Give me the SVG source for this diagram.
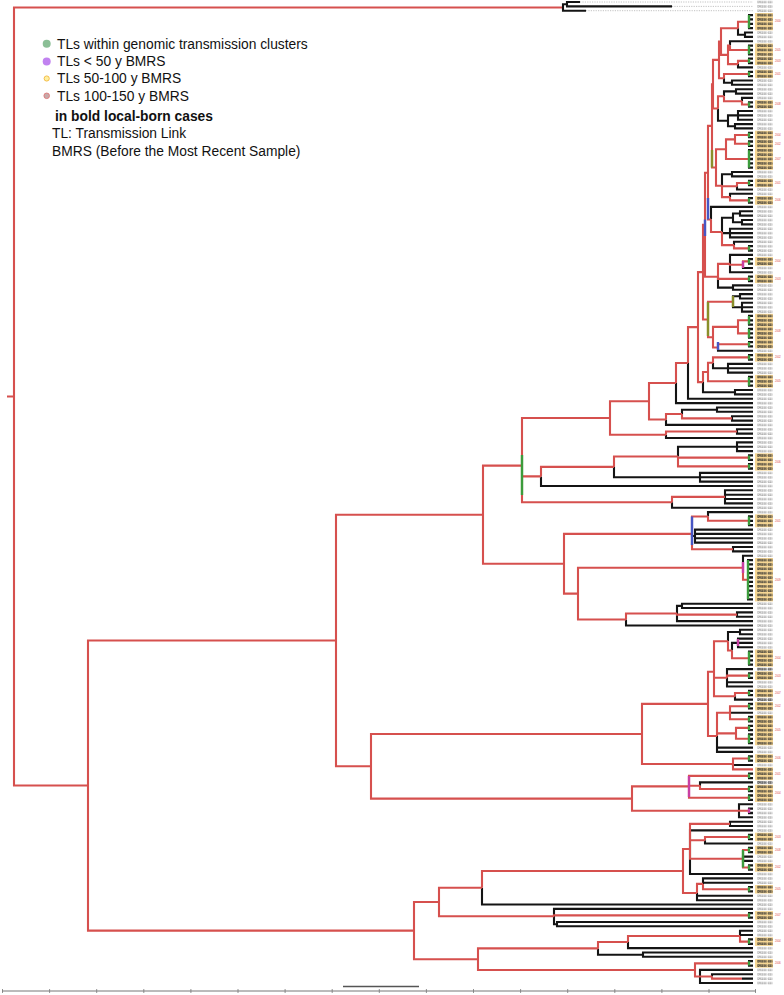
<svg xmlns="http://www.w3.org/2000/svg" width="784" height="995" viewBox="0 0 784 995">
<style>
.r{fill:none;stroke:#d6504e;stroke-width:2.1;stroke-linejoin:miter}
.k{fill:none;stroke:#141414;stroke-width:2.1;stroke-linejoin:miter}
.tip{fill:none;stroke:#141414;stroke-width:2.3}
.gb{fill:none;stroke:#3c9c3c;stroke-width:2.4}
.bb{fill:none;stroke:#4756c4;stroke-width:2.4}
.ob{fill:none;stroke:#8a8f2a;stroke-width:2.4}
.pb{fill:none;stroke:#c93fa3;stroke-width:2.4}
.dash{fill:none;stroke:#9a9a9a;stroke-width:0.6;stroke-dasharray:1.2 1.2}
.yb{fill:#f7d794}
.lt{font-family:'Liberation Sans',Arial,sans-serif;font-size:2.6px;fill:#555}
.ltb{font-family:'Liberation Sans',Arial,sans-serif;font-size:2.6px;font-weight:bold;fill:#1a1a1a}
.an{font-family:'Liberation Sans',Arial,sans-serif;font-size:2.6px;fill:#e04848}
.lg{font-family:'Liberation Sans',Arial,sans-serif;font-size:13.8px;fill:#111}
.hb{fill:url(#lblb)}
</style>
<defs>
<pattern id="lbl" patternUnits="userSpaceOnUse" x="757" y="-0.18" width="16" height="4.36">
<text x="0.3" y="3.2" class="lt" textLength="15" lengthAdjust="spacingAndGlyphs">IDR00000_0000</text>
</pattern>
<pattern id="lblb" patternUnits="userSpaceOnUse" x="757" y="-0.18" width="16" height="4.36">
<text x="0.3" y="3.2" class="ltb" textLength="15" lengthAdjust="spacingAndGlyphs">IDR00000_0000</text>
</pattern>
</defs>
<rect width="784" height="995" fill="#ffffff"/>

<g id="highlights">
<rect class="yb" x="755" y="13" width="18" height="17.3"/>
<rect class="yb" x="755" y="43.5" width="18" height="12.9"/>
<rect class="yb" x="755" y="56.6" width="18" height="8.5"/>
<rect class="yb" x="755" y="69.7" width="18" height="8.5"/>
<rect class="yb" x="755" y="100.2" width="18" height="8.5"/>
<rect class="yb" x="755" y="130.7" width="18" height="8.6"/>
<rect class="yb" x="755" y="139.4" width="18" height="8.6"/>
<rect class="yb" x="755" y="148.1" width="18" height="21.7"/>
<rect class="yb" x="755" y="178.7" width="18" height="8.5"/>
<rect class="yb" x="755" y="196.1" width="18" height="8.6"/>
<rect class="yb" x="755" y="257.1" width="18" height="8.6"/>
<rect class="yb" x="755" y="274.6" width="18" height="8.5"/>
<rect class="yb" x="755" y="313.8" width="18" height="34.7"/>
<rect class="yb" x="755" y="353.1" width="18" height="8.5"/>
<rect class="yb" x="755" y="374.9" width="18" height="12.9"/>
<rect class="yb" x="755" y="453.3" width="18" height="17.3"/>
<rect class="yb" x="755" y="514.4" width="18" height="12.9"/>
<rect class="yb" x="755" y="558" width="18" height="43.4"/>
<rect class="yb" x="755" y="649.5" width="18" height="17.3"/>
<rect class="yb" x="755" y="671.3" width="18" height="8.6"/>
<rect class="yb" x="755" y="688.8" width="18" height="8.5"/>
<rect class="yb" x="755" y="701.9" width="18" height="8.5"/>
<rect class="yb" x="755" y="714.9" width="18" height="30.4"/>
<rect class="yb" x="755" y="754.2" width="18" height="8.5"/>
<rect class="yb" x="755" y="767.3" width="18" height="12.9"/>
<rect class="yb" x="755" y="784.7" width="18" height="17.3"/>
<rect class="yb" x="755" y="832.7" width="18" height="8.5"/>
<rect class="yb" x="755" y="845.7" width="18" height="8.7"/>
<rect class="yb" x="755" y="863.2" width="18" height="8.5"/>
<rect class="yb" x="755" y="885" width="18" height="8.5"/>
<rect class="yb" x="755" y="911.1" width="18" height="8.6"/>
<rect class="yb" x="755" y="937.3" width="18" height="8.6"/>
<rect class="yb" x="755" y="959.1" width="18" height="8.6"/>
</g>

<g id="leaf-labels">
<rect x="757" y="0" width="16" height="985.5" fill="url(#lbl)"/>
<rect class="hb" x="757" y="13" width="16" height="17.3"/>
<rect class="hb" x="757" y="43.5" width="16" height="21.6"/>
<rect class="hb" x="757" y="69.7" width="16" height="8.5"/>
<rect class="hb" x="757" y="100.2" width="16" height="8.5"/>
<rect class="hb" x="757" y="130.7" width="16" height="39.1"/>
<rect class="hb" x="757" y="178.7" width="16" height="8.5"/>
<rect class="hb" x="757" y="196.1" width="16" height="8.6"/>
<rect class="hb" x="757" y="257.1" width="16" height="8.6"/>
<rect class="hb" x="757" y="274.6" width="16" height="8.5"/>
<rect class="hb" x="757" y="313.8" width="16" height="34.7"/>
<rect class="hb" x="757" y="353.1" width="16" height="8.5"/>
<rect class="hb" x="757" y="374.9" width="16" height="12.9"/>
<rect class="hb" x="757" y="453.3" width="16" height="17.3"/>
<rect class="hb" x="757" y="514.4" width="16" height="12.9"/>
<rect class="hb" x="757" y="558" width="16" height="43.4"/>
<rect class="hb" x="757" y="649.5" width="16" height="30.4"/>
<rect class="hb" x="757" y="688.8" width="16" height="21.6"/>
<rect class="hb" x="757" y="714.9" width="16" height="30.4"/>
<rect class="hb" x="757" y="754.2" width="16" height="8.5"/>
<rect class="hb" x="757" y="767.3" width="16" height="34.7"/>
<rect class="hb" x="757" y="832.7" width="16" height="8.5"/>
<rect class="hb" x="757" y="845.7" width="16" height="8.7"/>
<rect class="hb" x="757" y="863.2" width="16" height="8.5"/>
<rect class="hb" x="757" y="885" width="16" height="8.5"/>
<rect class="hb" x="757" y="911.1" width="16" height="8.6"/>
<rect class="hb" x="757" y="937.3" width="16" height="8.6"/>
<rect class="hb" x="757" y="959.1" width="16" height="8.6"/>
</g>

<g id="cluster-notes">
<text class="an" x="775" y="22">2000</text>
<text class="an" x="775" y="51">2005</text>
<text class="an" x="775" y="62">2003</text>
<text class="an" x="775" y="75">2001</text>
<text class="an" x="775" y="105">2008</text>
<text class="an" x="775" y="136">2004</text>
<text class="an" x="775" y="145">2002</text>
<text class="an" x="775" y="160">2007</text>
<text class="an" x="775" y="184">2001</text>
<text class="an" x="775" y="201">2006</text>
<text class="an" x="775" y="262">2004</text>
<text class="an" x="775" y="280">2003</text>
<text class="an" x="775" y="332">2008</text>
<text class="an" x="775" y="358">2002</text>
<text class="an" x="775" y="382">2005</text>
<text class="an" x="775" y="463">2006</text>
<text class="an" x="775" y="522">2001</text>
<text class="an" x="775" y="581">2009</text>
<text class="an" x="775" y="659">2004</text>
<text class="an" x="775" y="677">2003</text>
<text class="an" x="775" y="694">2007</text>
<text class="an" x="775" y="707">2002</text>
<text class="an" x="775" y="731">2005</text>
<text class="an" x="775" y="759">2006</text>
<text class="an" x="775" y="775">2001</text>
<text class="an" x="775" y="794">2004</text>
<text class="an" x="775" y="838">2003</text>
<text class="an" x="775" y="851">2008</text>
<text class="an" x="775" y="868">2002</text>
<text class="an" x="775" y="890">2005</text>
<text class="an" x="775" y="916">2007</text>
<text class="an" x="775" y="942">2004</text>
<text class="an" x="775" y="964">2006</text>
</g>

<g id="connectors">
<g id="clade-root">
<path class="r" d="M7,396.5H14M14,396.5V7.5H563M14,396.5V785.5H88"/>
</g>
<g id="clade-top">
<path class="k" d="M563,7.5V4.2H567M563,7.5V10.7H586M567,4.2V2H580M567,4.2V6.4H672"/>
<path class="dash" d="M580,2H753M672,6.4H753M586,10.7H753"/>
</g>
<g id="clade-upper">
<path class="k" d="M738,28.2V34.7H745M745,34.7V32.5H753M745,34.7V36.9H753M730,45.6V41.2H753M738,64.1V67.4H753M724,78.3V82.7H732M732,82.7V80.5H753M732,82.7V84.8H753M724,96.3V91.4H736M736,91.4V89.2H753M736,91.4V93.6H753M742,101.2V97.9H753M718,108.5V120.8H728M728,120.8V115.4H738M738,115.4V111H753M738,115.4H753M738,115.4V119.7H753M728,120.8V126.3H735M735,126.3V124.1H753M735,126.3V128.4H753M722,185.8V174.2H732M732,174.2V172H753M732,174.2V176.4H753M737,186.2V189.5H753M730,197.1V193.8H753M711,219.5V206.9H753M722,232V217.8H733M722,232V233.1H730M733,217.8V213.5H740M740,213.5V211.3H753M740,213.5V215.6H753M733,217.8V222.2H742M742,222.2V220H753M742,222.2V224.4H753M730,233.1V228.7H753M730,233.1H753M730,233.1V237.4H753M734,245.1V241.8H753M718,276.8V287.6H733M733,287.6V285.4H753M733,287.6V289.8H753M730,263.9V254.9H753M730,263.9V272.3H753M743,264.7V268H753M733,301.8V296.3H740M740,296.3V294.1H753M740,296.3V298.5H753M733,301.8V307.2H742M742,307.2V302.8H753M742,307.2H753M742,307.2V311.6H753M718,347.5V350.8H753M703,382.1V392.2H735M735,392.2V390H753M735,392.2V394.4H753M713,362.8V368.2H728M728,368.2V363.9H753M728,368.2H753M728,368.2V372.6H753M688,363V398.8H753M676,383V403.1H753M666,419.5V424.9H753M682,414V409.7H717M717,409.7V407.5H753M717,409.7V411.8H753M732,418.4V416.2H753M732,418.4V420.6H753M737,431.5V429.3H753M737,431.5V433.6H753M666,434.7V438H753"/>
<path class="r" d="M738,28.2V21.7H749M721,41.5V28.2H738M721,41.5V54.9H728M728,54.9V45.6H730M728,54.9V64.1H738M730,45.6V50H749M738,64.1V60.9H749M719,59.9V41.5H721M719,59.9V78.3H724M724,78.3V74H749M713,84.2V59.9H719M713,84.2V108.5H718M718,108.5V96.3H724M724,96.3V101.2H742M742,101.2V104.5H749M712,125.9V84.2H713M712,125.9V167.5H716M716,167.5V149.2H726M716,167.5V185.8H722M726,149.2V139.4H735M726,149.2V159H749M735,139.4V135H749M735,139.4V143.7H749M722,185.8V186.2H737M722,185.8V197.1H730M737,186.2V183H749M730,197.1V200.4H749M708,172.7V125.9H712M708,172.7V219.5H711M711,219.5V232H722M722,232V245.1H734M734,245.1V248.4H749M705,224.7V172.7H708M705,224.7V276.8H718M718,276.8V263.9H730M718,276.8V278.9H749M730,263.9V264.7H743M743,264.7V261.4H749M703,272.1V224.7H705M703,272.1V319.5H708M708,319.5V301.8H733M708,319.5V337.2H713M713,337.2V326.9H738M713,337.2V347.5H718M738,326.9V320.3H749M738,326.9V333.4H749M718,347.5V344.3H749M698,327.1V272.1H703M698,327.1V382.1H703M703,382.1V372H708M708,372V362.8H713M708,372V381.3H749M713,362.8V357.4H749M688,363V327.1H698M676,383V363H688M649,401.2V383H676M649,401.2V419.5H666M666,419.5V414H682M682,414V418.4H732M610,418V401.2H649M610,418V434.7H666M666,434.7V431.5H737"/>
</g>
<g id="clade-middle">
<path class="k" d="M541,476.4V486H753M614,466.9V477.2H700M700,477.2V472.9H753M700,477.2H753M700,477.2V481.6H753M678,456.5V446.7H737M737,446.7V442.4H753M737,446.7H753M737,446.7V451.1H753M725,496.9V490.3H753M725,496.9V494.7H753M725,496.9V499H753M725,496.9V503.4H753M672,502.3V507.8H753M692,533.9V536H695M695,536V529.6H753M695,536V533.9H753M695,536V538.3H753M695,536V542.6H753M708,516.5V512.1H753M733,549.2V547H753M733,549.2V551.4H753M743,567.7V555.7H753M626,619.5V625.5H753M677,613.5V605.9H682M682,605.9V603.7H753M682,605.9V608H753M737,614.6V612.4H753M737,614.6V616.8H753M677,613.5V621.1H753"/>
<path class="r" d="M522,465.6V418H610M522,465.6V476.4H541M522,465.6V502.3H672M541,476.4V466.9H614M614,466.9V456.5H678M678,456.5V457.6H749M678,456.5V466.4H749M672,502.3V496.9H725M483,514.7V465.6H522M483,514.7V563.7H564M564,563.7V533.9H692M564,563.7V593.6H578M692,533.9V516.5H708M692,533.9V549.2H733M708,516.5V520.8H749M578,593.6V567.7H743M578,593.6V619.5H626M743,567.7V579.7H748M626,619.5V613.5H677M677,613.5V614.6H737"/>
</g>
<g id="clade-lower">
<path class="k" d="M728,641.3V632H740M740,632V629.8H753M740,632V634.2H753M732,650.5V642.9H738M738,642.9V638.6H753M738,642.9H753M738,642.9V647.3H753M727,677.8V669.1H753M727,677.8V682.2H753M727,677.8V686.5H753M735,696.3V699.6H753M717,736V747.6H753M717,736V751.9H753M730,712.7H753M733,764V765H753M700,785.7V782.4H753M739,810.8V804.2H753M739,810.8V817.3H753"/>
<path class="r" d="M336,640.5V514.7H483M336,640.5V766.3H371M371,766.3V734H642M371,766.3V798.6H632M642,734V703.9H708M642,734V764H733M708,703.9V671.8H714M708,703.9V736H717M714,671.8V641.3H728M714,671.8V677.8H727M714,671.8V696.3H735M728,641.3V650.5H732M732,650.5V658.2H749M727,677.8V675.6H749M735,696.3V693H749M717,736V712.7H730M717,736V733.4H736M730,712.7V706.2H749M730,712.7V719.2H749M736,733.4V727.9H749M736,733.4V738.8H749M733,764V758.5H749M733,764V769.4H753M632,798.6V786.4H689M632,798.6V810.8H739M689,786.4V775.9H749M689,786.4V785.7H700M689,786.4V797.7H749M700,785.7V789H749M739,810.8H749"/>
</g>
<g id="clade-bottom">
<path class="k" d="M482,887.8V904.5H753M730,823.9V821.7H753M730,823.9V826H753M690,849V830.4H753M690,849V874H753M705,840.2V843.5H753M743,858.7V856.6H753M743,858.7V860.9H753M697,893V895.8H753M697,893V900.2H753M703,883.9V878.4H753M703,883.9V882.7H753M554,916.2V908.9H753M554,916.2V924.2H557M557,924.2V922H753M557,924.2V926.3H753M598,948.4V954.7H643M643,954.7V952.5H753M643,954.7V956.8H753M628,942V948.1H753M740,936V930.7H753M740,936V935H753M700,976.5V969.9H753M700,976.5V983H753M712,976.5V974.3H753M742,978.6H753"/>
<path class="r" d="M88,785.5V640.5H336M88,785.5V930.6H414M414,930.6V902H439M414,930.6V959.2H478M439,902V887.8H482M439,902V916.2H554M482,887.8V871H683M683,871V849H690M683,871V893H697M690,849V823.9H730M690,849V840.2H705M690,849V858.7H743M705,840.2V837H749M743,858.7V850H749M743,858.7V867.5H749M697,893V883.9H703M703,883.9V889.3H749M554,916.2V915.4H749M478,959.2V948.4H598M478,959.2V970H695M598,948.4V942H628M628,942V936H740M740,936V941.6H749M695,970V963.4H749M695,970V976.5H700M700,976.5H712M712,976.5V978.6H742"/>
</g>
<g id="cluster-tips">
<path class="tip" d="M748,15.1H753M748,19.4H753M748,23.8H753M748,28.2H753M748,45.6H753M748,50H753M748,54.3H753M748,58.7H753M748,63H753M748,71.8H753M748,76.1H753M748,102.3H753M748,106.6H753M748,132.8H753M748,137.2H753M748,141.5H753M748,145.9H753M748,150.2H753M748,154.6H753M748,159H753M748,163.3H753M748,167.7H753M748,180.8H753M748,185.1H753M748,198.2H753M748,202.6H753M748,246.2H753M748,250.5H753M748,259.2H753M748,263.6H753M748,276.7H753M748,281H753M748,315.9H753M748,320.3H753M748,324.6H753M748,329H753M748,333.4H753M748,337.7H753M748,342.1H753M748,346.4H753M748,355.2H753M748,359.5H753M748,377H753M748,381.3H753M748,385.7H753M748,455.4H753M748,459.8H753M748,464.2H753M748,468.5H753M748,516.5H753M748,520.8H753M748,525.2H753M747,560.1H753M747,564.4H753M747,568.8H753M747,573.2H753M747,577.5H753M747,581.9H753M747,586.2H753M747,590.6H753M747,595H753M747,599.3H753M748,651.6H753M748,656H753M748,660.4H753M748,664.7H753M748,673.4H753M748,677.8H753M748,690.9H753M748,695.2H753M748,704H753M748,708.3H753M748,717H753M748,721.4H753M748,725.8H753M748,730.1H753M748,734.5H753M748,738.8H753M748,743.2H753M748,756.3H753M748,760.6H753M748,773.7H753M748,778.1H753M748,786.8H753M748,791.2H753M748,795.5H753M748,799.9H753M748,808.6H753M748,813H753M748,834.8H753M748,839.1H753M748,847.8H753M748,852.2H753M748,865.3H753M748,869.6H753M748,887.1H753M748,891.4H753M748,913.2H753M748,917.6H753M748,939.4H753M748,943.8H753M748,961.2H753M748,965.6H753"/>
<path class="gb" d="M749,15.1V28.2M749,45.6V54.3M749,58.7V63M749,71.8V76.1M749,102.3V106.6M749,132.8V137.2M749,141.5V145.9M749,150.2V167.7M749,180.8V185.1M749,198.2V202.6M749,246.2V250.5M749,259.2V263.6M749,276.7V281M749,315.9V324.6M749,329V337.7M749,342.1V346.4M749,355.2V359.5M749,377V385.7M749,455.4V459.8M749,464.2V468.5M749,516.5V525.2M748,560.1V599.3M749,651.6V664.7M749,673.4V677.8M749,690.9V695.2M749,704V708.3M749,717V721.4M749,725.8V730.1M749,734.5V743.2M749,756.3V760.6M749,773.7V778.1M749,786.8V791.2M749,795.5V799.9M749,834.8V839.1M749,847.8V852.2M749,865.3V869.6M749,887.1V891.4M749,913.2V917.6M749,939.4V943.8M749,961.2V965.6"/>
</g>
<g id="transmission-links">
<path class="gb" d="M522,455V495M743,850V867.5"/>
<path class="bb" d="M692,516.5V545M708,198V219.5M705,219.5V236M718,342V350"/>
<path class="ob" d="M712,150V167.5M708,302V336M733,296V307"/>
<path class="pb" d="M689,776V797M743,562V573M743,261V268M738,639V646M749,808.6V813"/>
</g>
</g>

<g id="axis">
<path d="M2,991H756" fill="none" stroke="#777" stroke-width="1"/>
<path d="M2.5,989V993M49.6,989V993M96.7,989V993M143.8,989V993M190.9,989V993M238,989V993M285.1,989V993M332.2,989V993M379.3,989V993M426.4,989V993M473.5,989V993M520.6,989V993M567.7,989V993M614.8,989V993M661.9,989V993M709,989V993M755.5,989V993" fill="none" stroke="#777" stroke-width="0.8"/>
<path d="M343,986.5H419" fill="none" stroke="#555" stroke-width="1.5"/>
</g>

<g id="legend">
<circle cx="46.7" cy="43.8" r="4" fill="#8bbf96"/>
<circle cx="46.7" cy="61.5" r="4" fill="#c182f0"/>
<circle cx="46.7" cy="78.5" r="2.6" fill="#fff0a0" stroke="#f0b030" stroke-width="0.8"/>
<circle cx="46.7" cy="95.8" r="2.8" fill="#c7a9a9" stroke="#e07070" stroke-width="0.8"/>
<text class="lg" x="57" y="48.5">TLs within genomic transmission clusters</text>
<text class="lg" x="57" y="66">TLs &lt; 50 y BMRS</text>
<text class="lg" x="57" y="83.2">TLs 50-100 y BMRS</text>
<text class="lg" x="57" y="100.5">TLs 100-150 y BMRS</text>
<text class="lg" x="55" y="120.5" font-weight="bold">in bold local-born cases</text>
<text class="lg" x="52" y="138">TL: Transmission Link</text>
<text class="lg" x="52" y="156">BMRS (Before the Most Recent Sample)</text>
</g>
</svg>
